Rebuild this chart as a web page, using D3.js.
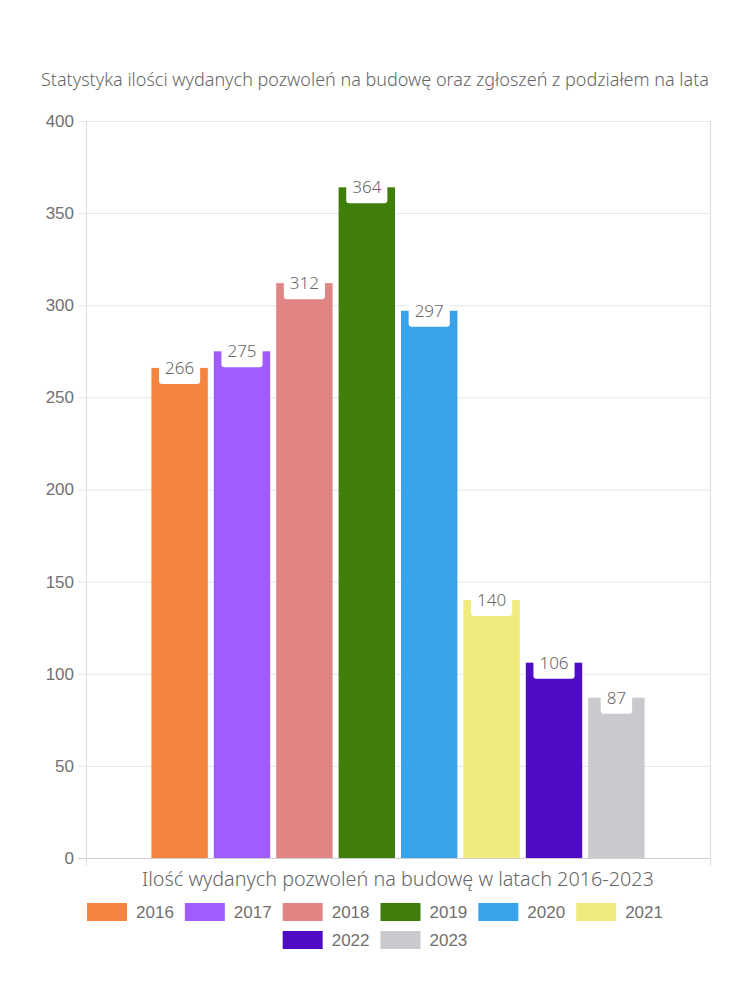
<!DOCTYPE html>
<html>
<head>
<meta charset="utf-8">
<script src="https://cdnjs.cloudflare.com/ajax/libs/d3/7.8.5/d3.min.js"></script>
<style>
  body { margin: 0; background: #fff; }
  svg text { fill: #666; }
</style>
</head>
<body>
<div id="chart"></div>
<script>
// data
var years = ['2016','2017','2018','2019','2020','2021','2022','2023'];
var values = [266, 275, 312, 364, 297, 140, 106, 87];
var colors = ['#f5843f','#a05cfe','#e08484','#3f7e0d','#38a3ea','#f0eb7d','#500cc4','#c9cacd'];
var yTicks = [0, 50, 100, 150, 200, 250, 300, 350, 400];
var titleText = 'Statystyka ilości wydanych pozwoleń na budowę oraz zgłoszeń z podziałem na lata';
var xTitle = 'Ilość wydanych pozwoleń na budowę w latach 2016-2023';

var W = 750, H = 1000;
var roundFont = '"Noto Sans", Lato, sans-serif';
var plotL = 86, plotR = 710, plotT = 121, plotB = 858;

var svg = d3.select('#chart').append('svg')
  .attr('width', W).attr('height', H);

// fit a text to a target width
function fitWidth(sel, target) {
  var fs = parseFloat(sel.style('font-size'));
  var w = sel.node().getComputedTextLength();
  sel.style('font-size', (fs * target / w) + 'px');
}

// title
var title = svg.append('text')
  .attr('x', 375).attr('y', 86)
  .attr('text-anchor', 'middle')
  .style('font-family', roundFont)
  .style('font-size', '16px')
  .style('font-weight', 300)
  .text(titleText);
fitWidth(title, 668);

var y = d3.scaleLinear().domain([0, 400]).range([plotB, plotT]);
var x = d3.scaleBand().domain(years).range([plotL, plotR])
  .paddingOuter(1).paddingInner(0);

// grid lines
svg.append('g').selectAll('line')
  .data(yTicks)
  .enter().append('line')
  .attr('x1', plotL - 8).attr('x2', plotR)
  .attr('y1', function(d){ return y(d) + 0.5; })
  .attr('y2', function(d){ return y(d) + 0.5; })
  .attr('stroke', function(d){ return d === 0 ? '#d0d0d0' : '#e6e6e6'; });

// vertical borders
[plotL, plotR].forEach(function(px){
  svg.append('line')
    .attr('x1', px + 0.5).attr('x2', px + 0.5)
    .attr('y1', plotT).attr('y2', plotB + 8)
    .attr('stroke', '#dcdcdc');
});

// y axis labels
var yAxis = d3.axisLeft(y).tickValues(yTicks).tickSize(0).tickPadding(12);
var ya = svg.append('g').attr('transform', 'translate(' + plotL + ',0)').call(yAxis);
ya.select('.domain').remove();
ya.selectAll('text')
  .style('font-family', '"Liberation Sans", Arial, sans-serif')
  .style('font-size', '17px')
  .style('fill', '#707070');

// bars
var gap = 3;
svg.append('g').selectAll('rect')
  .data(values)
  .enter().append('rect')
  .attr('x', function(d, i){ return x(years[i]) + gap; })
  .attr('width', x.bandwidth() - gap * 2)
  .attr('y', function(d){ return y(d); })
  .attr('height', function(d){ return plotB - y(d); })
  .attr('fill', function(d, i){ return colors[i]; });

// value labels
var lab = svg.append('g').selectAll('g')
  .data(values)
  .enter().append('g')
  .attr('transform', function(d, i){
    return 'translate(' + (x(years[i]) + x.bandwidth() / 2) + ',' + y(d) + ')';
  });
lab.append('text')
  .attr('text-anchor', 'middle')
  .attr('y', 6)
  .style('font-family', roundFont)
  .style('font-size', '17px')
  .style('font-weight', 300)
  .text(function(d){ return d; });
lab.each(function(){
  var g = d3.select(this);
  var w = g.select('text').node().getComputedTextLength() + 12;
  g.insert('rect', 'text')
    .attr('x', -w / 2).attr('y', -12)
    .attr('width', w).attr('height', 28)
    .attr('rx', 3)
    .attr('fill', '#fff');
});

// x title
var xt = svg.append('text')
  .attr('x', (plotL + plotR) / 2).attr('y', 886)
  .attr('text-anchor', 'middle')
  .style('font-family', roundFont)
  .style('font-size', '18px')
  .style('font-weight', 300)
  .text(xTitle);
fitWidth(xt, 512);

// legend
var boxW = 40, boxH = 18, pad = 9, sep = 11, rowH = 28, maxW = 620;
var legend = svg.append('g');
var items = years.map(function(yr, i){
  var t = legend.append('text')
    .style('font-family', '"Liberation Sans", Arial, sans-serif')
    .style('font-size', '17px')
    .style('fill', '#707070')
    .text(yr);
  return { text: t, color: colors[i], w: boxW + pad + t.node().getComputedTextLength() };
});
var rows = [[]], rowW = [0];
items.forEach(function(it){
  var r = rows.length - 1;
  var add = (rows[r].length ? sep : 0) + it.w;
  if (rowW[r] + add > maxW) { rows.push([]); rowW.push(0); r++; add = it.w; }
  rows[r].push(it); rowW[r] += add;
});
rows.forEach(function(row, r){
  var cx = 375 - rowW[r] / 2;
  var cy = 912 + r * rowH;
  row.forEach(function(it){
    legend.append('rect')
      .attr('x', cx).attr('y', cy - boxH / 2)
      .attr('width', boxW).attr('height', boxH)
      .attr('fill', it.color);
    it.text.attr('x', cx + boxW + pad).attr('y', cy + 6);
    cx += it.w + sep;
  });
});
</script>
</body>
</html>
